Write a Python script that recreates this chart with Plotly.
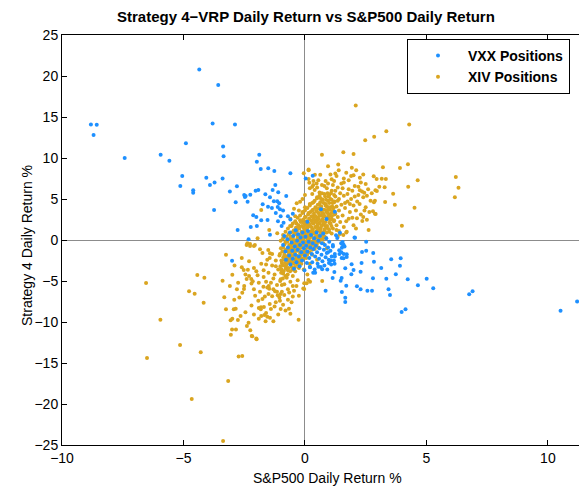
import plotly.graph_objects as go

# ---- VXX positions (blue) ----
vxx_outer = [(-8.81,14.1),(-8.57,14.06),(-8.70,12.8),(-7.42,10.0),(-5.94,10.4),(-5.58,9.67),(-4.90,11.8),
(-5.05,7.8),(-5.13,6.6),(-4.6,6.06),(-4.6,5.77),(-4.35,20.8),(-3.57,18.9),(-3.80,14.2),(-2.88,14.1),
(-3.37,11.4),(-3.35,10.2),(-4.06,7.6),(-3.72,7.0),(-3.91,6.7),(-3.39,7.5),(-3.74,3.66),(-3.09,5.9),
(-2.80,6.55),(-2.85,4.6),(-2.77,1.22),(-2.50,5.49),(-2.47,5.24),(-2.36,4.67),(-2.25,5.53),(-1.88,10.4),
(-1.98,9.55),(-1.82,8.66),(-1.51,8.74),(-1.26,8.4),(-0.60,8.13),(-2.03,6.02),(-1.92,6.1),(-1.22,6.7),
(0.03,7.5),(0.32,7.85),(-2.44,5.37),(-1.44,5.2),(-1.63,5.57),(-1.33,6.1),(-1.10,5.81),(-0.77,5.37),
(-1.28,4.72),(-1.14,4.72),(-1.06,4.48),(-1.74,4.35),(-1.52,4.06),(-1.36,3.9),(-1.12,4.02),(-1.03,3.74),
(-2.13,3.01),(-2.00,2.8),(-1.80,2.4),(-2.23,1.59),(-1.98,1.71),(-1.54,2.44),(-1.44,0.65),(-2.32,0.08),
(-1.11,2.3),(-0.96,1.7),(-0.88,2.1),(-1.2,3.3),(-0.9,3.6),(-0.7,2.9),(-0.5,3.2),(-0.6,2.5),(-1.0,2.9),
(-3.0,-2.52),
(2.04,0.32),(2.52,-0.2),(2.35,-1.46),(2.52,-1.3),(2.81,-1.59),(3.55,-2.36),(3.94,-2.23),(3.91,-3.13),
(3.14,-3.41),(2.84,-2.64),(2.33,-2.8),(1.92,-2.97),(1.66,-3.46),(2.0,-3.66),(2.29,-3.86),(1.91,-4.19),
(1.21,-3.9),(1.14,-4.63),(1.51,-4.63),(1.47,-4.96),(2.80,-4.67),(3.35,-4.72),(3.74,-4.19),(4.23,-4.8),
(5.01,-4.72),(4.65,-5.53),(5.28,-5.89),(1.70,-5.57),(2.14,-5.65),(2.29,-6.02),(2.57,-6.18),(2.76,-6.18),
(3.44,-6.02),(3.50,-6.7),(1.52,-6.34),(0.85,-6.18),(1.66,-7.03),(1.66,-7.56),(4.14,-8.46),(3.98,-8.78),
(6.76,-6.62),(6.90,-6.26),(10.52,-8.62),(11.2,-7.5),
(0.95,-1.5),(1.23,-1.7),(1.23,-2.0),(1.42,-1.7),(1.5,-1.5),(1.6,-1.7),(1.72,-1.75),(1.06,-2.5),
(1.19,-2.5),(0.99,-2.8),(1.22,-2.9),(1.51,-2.2),(1.59,-2.23),(1.72,-2.07),(1.49,-0.4),(1.59,-0.57),
(1.52,-0.94),(1.41,-1.26),(1.55,-0.24),(1.28,0.57),(1.33,0.24),(0.55,-3.25),(0.71,-3.57),(0.34,-3.99),
(0.42,-3.99),(0.21,-3.33),(1.23,3.45),(0.89,2.56),(0.66,3.74),(0.1,2.23),(2.06,0.28),(1.44,0.89),
(1.15,-0.8),(1.53,-0.5),(1.63,-0.8)]

vxx_core = [(-0.9,-0.6),(-0.85,0.5),(-0.8,-1.4),(-0.78,-2.4),(-0.72,0.1),(-0.7,-0.9),(-0.65,-1.9),
(-0.62,0.9),(-0.6,-3.0),(-0.55,-0.3),(-0.52,-1.3),(-0.5,-2.3),(-0.48,0.5),(-0.45,-3.5),(-0.42,-0.8),
(-0.4,-1.8),(-0.38,1.2),(-0.35,-2.7),(-0.32,-0.1),(-0.3,-1.2),(-0.28,0.7),(-0.25,-2.0),(-0.22,-3.2),
(-0.2,-0.6),(-0.18,0.3),(-0.15,-1.5),(-0.12,-2.5),(-0.1,0.9),(-0.08,-0.3),(-0.05,-1.0),(-0.02,-3.7),
(0.0,-1.9),(0.02,0.4),(0.05,-0.7),(0.08,-2.8),(0.1,-1.4),(0.12,1.1),(0.15,-0.2),(0.18,-2.2),(0.2,-3.3),
(0.22,-0.9),(0.25,0.6),(0.28,-1.7),(0.3,-2.7),(0.32,-0.4),(0.35,-1.1),(0.38,0.2),(0.4,-3.6),(0.42,-2.0),
(0.45,-0.7),(0.48,0.9),(0.5,-1.5),(0.52,-2.9),(0.55,-0.1),(0.58,-2.3),(0.6,-1.0),(0.62,0.5),(0.65,-3.3),
(0.68,-1.8),(0.7,-0.4),(0.72,-2.6),(0.75,0.8),(0.78,-1.2),(0.8,-3.1),(0.82,-0.6),(0.85,-2.1),(0.88,0.2),
(0.9,-1.6),(0.92,-3.6),(0.95,-0.9),(0.98,-2.4),(1.0,-0.2),(1.05,-1.3),(1.08,-3.0),(1.1,-2.0),(1.15,-0.6)]

# ---- XIV positions (gold) ----
xiv_core = [(-1.4,-5.2),(-1.35,-3.1),(-1.3,-6.0),(-1.25,-4.2),(-1.2,-2.5),(-1.15,-5.5),(-1.1,-3.6),
(-1.05,-1.9),(-1.0,-4.8),(-1.0,-6.6),(-1.45,-2.2),(-1.5,-4.0),(-1.6,-3.0),(-1.55,-5.8),(-1.7,-4.5),
(-1.8,-2.9),(-1.9,-5.2),(-2.0,-3.8),(-1.65,-6.9),(-1.75,-1.6),
(-0.95,-2.8),(-0.9,-0.9),(-0.9,-4.1),(-0.85,-1.8),(-0.85,-5.4),(-0.8,-3.2),(-0.8,-0.2),(-0.75,-2.3),
(-0.75,-4.6),(-0.7,-1.4),(-0.7,-3.7),(-0.65,-0.6),(-0.65,-2.7),(-0.6,-5.1),(-0.6,-1.9),(-0.6,0.4),
(-0.95,-6.3),(-0.7,-6.0),(-0.8,1.0),(-0.9,0.6),
(-0.55,-3.3),(-0.55,-1.0),(-0.5,-2.2),(-0.5,0.2),(-0.5,-4.4),(-0.45,-1.5),(-0.45,1.2),(-0.45,-2.9),
(-0.4,-0.5),(-0.4,-3.8),(-0.4,0.8),(-0.35,-1.9),(-0.35,-0.1),(-0.35,2.0),(-0.3,-2.6),(-0.3,-1.2),
(-0.3,0.5),(-0.25,-3.4),(-0.25,-0.7),(-0.25,1.5),(-0.2,-1.6),(-0.2,0.1),(-0.2,-2.3),(-0.2,2.4),
(-0.5,-5.6),(-0.3,-4.9),(-0.55,1.7),(-0.4,2.9),
(-0.15,-0.9),(-0.15,1.0),(-0.15,-2.9),(-0.1,0.4),(-0.1,-1.7),(-0.1,2.2),(-0.05,-0.3),(-0.05,1.6),
(-0.05,-3.6),(0.0,-1.2),(0.0,0.8),(0.0,2.8),(0.05,-0.6),(0.05,1.3),(0.05,-2.2),(0.1,0.2),(0.1,2.0),
(0.1,-1.5),(0.15,0.9),(0.15,-0.4),(0.15,3.3),(0.2,1.7),(0.2,-1.0),(0.2,-2.9),(0.0,4.0),(-0.1,3.4),
(0.1,-4.2),(0.2,4.4),
(0.25,0.4),(0.25,2.4),(0.25,-0.6),(0.3,1.2),(0.3,3.6),(0.3,-1.8),(0.35,0.0),(0.35,2.0),(0.35,4.6),
(0.4,0.9),(0.4,2.9),(0.4,-1.1),(0.45,1.6),(0.45,3.9),(0.45,-0.3),(0.5,0.5),(0.5,2.4),(0.5,5.2),
(0.55,1.2),(0.55,3.3),(0.55,-0.9),(0.6,2.0),(0.6,4.3),(0.6,0.1),(0.3,5.6),(0.5,-2.4),(0.4,6.1),(0.6,5.8),
(0.65,1.4),(0.65,3.0),(0.7,0.6),(0.7,2.4),(0.7,4.9),(0.75,1.9),(0.75,3.7),(0.75,-0.4),(0.8,1.1),
(0.8,2.9),(0.8,5.6),(0.85,2.2),(0.85,4.2),(0.85,0.3),(0.9,1.5),(0.9,3.4),(0.9,6.3),(0.95,2.6),
(0.95,4.8),(1.0,1.0),(1.0,3.1),(1.0,5.5),(0.7,6.7),(0.85,7.2),(0.9,-1.0),(0.75,0.2),
(1.05,2.0),(1.05,4.0),(1.1,2.9),(1.1,6.0),(1.15,1.4),(1.15,3.6),(1.2,4.6),(1.2,2.4),(1.25,3.2),
(1.25,5.3),(1.3,1.8),(1.3,4.1),(1.35,2.8),(1.35,6.4),(1.4,3.6),(1.4,5.0),(1.45,2.2),(1.5,4.3),
(1.5,6.9),(1.2,7.2),(1.1,0.8),(1.4,1.1),
(1.55,3.0),(1.6,5.4),(1.65,3.9),(1.7,2.3),(1.75,4.7),(1.8,6.2),(1.85,3.4),(1.9,5.0),(1.95,2.7),
(2.0,4.2),(2.05,6.6),(2.1,3.6),(2.2,5.5),(2.25,4.4),(2.3,3.1),(1.6,7.5),(1.7,0.9),(2.4,5.2),(2.5,4.0),
(2.6,6.2),(2.0,1.8),(1.9,7.8),(2.7,4.8),(2.3,7.0),
(-2.1,-6.0),(-2.3,-4.4),(-2.5,-5.6),(-1.2,-7.6),(-1.4,-8.4),(-0.9,-7.9),(-1.1,-9.1),(-0.7,-7.3),
(-2.2,-8.0),(-2.6,-2.2),(-2.9,-3.1),(-0.5,-6.9),(-1.6,-8.9),(-1.9,-9.6),(-2.7,-7.0)]

xiv_dense = [
(-1.02,-5.0),(-0.98,-4.0),(-1.01,-3.2),(-0.97,-2.5),(-1.03,-1.7),(-0.99,-1.0),(-1.0,-0.1),
(-0.91,-4.7),(-0.88,-3.8),(-0.92,-3.1),(-0.89,-2.1),(-0.93,-1.4),(-0.87,-0.6),(-0.9,0.2),
(-0.81,-4.4),(-0.79,-3.5),(-0.82,-2.8),(-0.78,-2.0),(-0.8,-1.2),(-0.83,-0.5),(-0.77,0.4),
(-0.71,-4.2),(-0.69,-3.4),(-0.72,-2.5),(-0.68,-1.8),(-0.7,-1.0),(-0.73,-0.2),(-0.67,0.7),(-0.7,1.4),
(-0.61,-3.8),(-0.59,-3.0),(-0.62,-2.3),(-0.58,-1.5),(-0.6,-0.7),(-0.63,0.1),(-0.57,0.9),(-0.61,1.7),
(-0.51,-3.6),(-0.49,-2.7),(-0.52,-1.9),(-0.48,-1.2),(-0.5,-0.4),(-0.53,0.4),(-0.47,1.1),(-0.5,2.0),
(-0.41,-3.3),(-0.39,-2.4),(-0.42,-1.6),(-0.38,-0.8),(-0.4,-0.1),(-0.43,0.7),(-0.37,1.5),(-0.4,2.3),
(-0.31,-3.0),(-0.29,-2.1),(-0.32,-1.3),(-0.28,-0.5),(-0.3,0.3),(-0.33,1.1),(-0.27,1.8),(-0.3,2.7),
(-0.21,-2.7),(-0.19,-1.8),(-0.22,-1.0),(-0.18,-0.2),(-0.2,0.6),(-0.23,1.4),(-0.17,2.2),(-0.2,3.0),
(-0.11,-2.4),(-0.09,-1.5),(-0.12,-0.7),(-0.08,0.1),(-0.1,0.9),(-0.13,1.7),(-0.07,2.5),(-0.1,3.3),
(-0.01,-2.1),(0.01,-1.2),(-0.02,-0.4),(0.02,0.4),(0.0,1.2),(-0.03,2.0),(0.03,2.8),(0.0,3.6),
(0.09,-1.8),(0.11,-0.9),(0.08,-0.1),(0.12,0.7),(0.1,1.5),(0.07,2.3),(0.13,3.1),(0.1,3.9),
(0.19,-1.5),(0.21,-0.6),(0.18,0.2),(0.22,1.0),(0.2,1.8),(0.17,2.6),(0.23,3.4),(0.2,4.2),
(0.29,-1.2),(0.31,-0.3),(0.28,0.5),(0.32,1.3),(0.3,2.1),(0.27,2.9),(0.33,3.7),(0.3,4.5),
(0.39,-0.9),(0.41,0.0),(0.38,0.8),(0.42,1.6),(0.4,2.4),(0.37,3.2),(0.43,4.0),(0.4,4.8),
(0.49,-0.5),(0.51,0.3),(0.48,1.1),(0.52,1.9),(0.5,2.7),(0.47,3.5),(0.53,4.3),(0.5,5.1),
(0.59,-0.2),(0.61,0.6),(0.58,1.4),(0.62,2.2),(0.6,3.0),(0.57,3.8),(0.63,4.6),(0.6,5.4),
(0.69,0.1),(0.71,0.9),(0.68,1.7),(0.72,2.5),(0.7,3.3),(0.67,4.1),(0.73,4.9),(0.7,5.7),
(0.79,0.5),(0.81,1.3),(0.78,2.1),(0.82,2.9),(0.8,3.7),(0.77,4.5),(0.83,5.3),
(0.89,0.9),(0.91,1.7),(0.88,2.5),(0.92,3.3),(0.9,4.1),(0.87,4.9),(0.93,5.7),
(0.99,1.3),(1.01,2.1),(0.98,2.9),(1.02,3.7),(1.0,4.5),(0.97,5.3),
(1.09,1.7),(1.11,2.5),(1.08,3.3),(1.12,4.1),(1.1,4.9),(1.07,5.7),
(1.19,2.3),(1.21,3.1),(1.18,3.9),(1.22,4.7),(1.2,5.5),
(-0.96,-3.6),(-0.86,-2.4),(-0.76,-3.0),(-0.66,-2.1),(-0.56,-2.6),(-0.46,-0.8),(-0.36,-2.0),
(-0.26,-0.9),(-0.16,-1.4),(-0.06,-0.8),(0.04,-1.6),(0.14,0.3),(0.24,-0.2),(0.34,0.9),(0.44,0.4),
(0.54,1.5),(0.64,1.0),(0.74,2.9),(0.84,1.7),(0.94,3.7),(1.04,2.5),(1.14,4.5),(-0.44,-1.2),
(-0.34,0.0),(-0.24,0.2),(-0.14,0.5),(-0.04,1.4),(0.06,1.8),(0.16,2.0),(0.26,1.6),(0.36,2.6),
(0.46,2.2),(0.56,2.6),(0.66,3.6),(0.76,3.2),(0.86,4.4),(0.96,4.0),(-0.64,-1.2),(-0.54,-0.2),
(0.14,-0.8),(0.24,0.8),(0.34,-0.6),(-0.14,-2.2),(-0.24,-2.4),(0.06,-0.2),(-0.06,0.6),(0.44,2.9)]

xiv_wings = [(-2.3,-2.6),(-2.1,-3.4),(-1.95,-4.3),(-1.85,-6.3),(-1.75,-7.2),(-1.6,-5.1),(-1.5,-6.6),
(-1.45,-7.8),(-1.3,-4.7),(-1.25,-8.1),(-1.15,-6.3),(-1.05,-7.0),(-0.95,-5.5),(-0.85,-6.7),(-0.8,-8.6),
(-0.65,-6.4),(-0.55,-7.6),(-0.45,-6.2),(-0.35,-5.6),(-0.25,-6.8),(-2.45,-4.2),(-2.2,-5.3),(-2.05,-6.8),
(-1.9,-8.3),(-1.7,-3.7),(-1.55,-2.4),(-1.35,-1.7),(-1.2,-3.2),(-2.75,-5.2),(-2.8,-6.0),(-1.0,-8.4),
(-0.6,-9.0),(-1.3,-9.9),(-2.45,-8.8),(-2.1,-9.1),
(0.3,6.5),(0.5,6.4),(0.65,5.1),(0.8,6.6),(0.95,6.9),(1.05,5.0),(1.15,6.7),(1.25,6.0),(1.35,4.8),
(1.45,5.7),(1.55,6.3),(1.65,4.5),(1.75,5.6),(1.85,4.4),(1.95,6.0),(2.05,5.3),(2.15,4.7),(2.2,6.5),
(2.35,5.9),(2.45,3.6),(2.55,5.4),(2.65,3.4),(2.75,5.7),(1.25,8.1),(0.55,7.3),(1.05,8.0),(1.7,8.2),
(0.35,7.2),(-0.1,5.0),(-0.25,3.6),(-0.45,3.8),(-0.6,2.6),(1.35,0.4),(1.6,1.6),(1.8,2.6),(2.1,1.4)]

xiv_outer = [(2.09,16.4),(4.29,14.1),(3.35,13.25),(2.85,12.6),(2.48,12.15),(1.58,10.7),(2.0,10.5),
(0.70,10.4),(0.15,8.6),(0.95,9.0),(1.37,9.2),(1.39,8.5),(1.93,8.8),(2.11,8.5),(3.21,8.87),(3.91,8.78),
(4.24,9.23),(4.64,7.28),(6.21,7.68),(6.32,6.38),(6.17,5.2),(4.25,6.5),(4.51,3.94),(3.70,4.3),
(3.63,5.65),(3.30,4.63),(3.99,1.75),(2.62,1.22),(2.88,4.8),(2.91,3.17),(2.95,7.44),(3.16,7.48),
(3.33,7.44),(3.06,6.5),(3.28,6.43),(2.26,7.6),(2.50,6.83),(2.26,6.06),(2.83,7.77),(2.90,6.06),
(2.96,5.98),(2.44,5.77),(2.84,4.59),(2.80,3.5),(2.88,3.2),(2.14,2.65),(2.40,2.8),(2.55,2.48),
(2.36,2.32),(0.15,8.5),(-0.05,8.13),(0.15,7.44),(0.18,6.99),(0.41,7.97),(0.63,7.97),(1.1,7.4),
(1.3,7.8),(1.6,7.0),(1.8,7.3),(2.0,7.9),(2.4,8.0),
(-0.34,4.47),(-0.2,4.67),(0.0,5.49),(0.2,6.3),(0.34,6.7),(0.48,6.9),(-1.8,3.66),(-1.47,1.22),
(-1.14,0.82),(-1.95,0.2),(-2.1,-0.73),(-2.26,-0.73),(-2.37,-0.4),(-2.4,-0.6),(-2.26,-0.49),
(-2.06,-0.6),(-1.51,-1.22),(-1.44,-1.62),(-1.85,-1.13),(-0.07,-5.9),(0.14,-4.88),(0.21,-5.08),
(0.07,-5.28),(0.71,-5.0),(1.3,1.22),(1.72,1.0),(1.58,0.6),(1.44,0.73),
(-4.43,-4.27),(-4.14,-4.6),(-4.54,-6.55),(-4.17,-7.64),(-3.25,-1.79),(-3.39,-4.96),(-2.99,-4.23),
(-3.09,-5.61),(-3.32,-6.99),(-3.25,-8.46),(-2.91,-7.28),(-2.93,-8.46),(-2.85,-8.37),(-2.76,-9.76),
(-3.06,-9.8),(-2.99,-9.6),(-2.65,-9.27),(-3.00,-10.9),(-2.84,-10.9),(-3.05,-11.55),(-2.32,-10.1),
(-2.39,-10.5),(-2.25,-11.0),(-2.19,-11.7),(-2.0,-12.0),(-1.62,-9.9),(-2.58,-6.42),(-2.51,-5.98),
(-2.6,-3.33),(-2.52,-3.66),(-2.35,-3.62),(-2.21,-4.76),(-2.15,-5.04),(-2.4,-4.76),(-1.92,-7.4),
(-1.81,-8.2),(-1.69,-8.17),(-1.82,-8.46),(-1.8,-9.27),(-1.67,-9.15),(-1.55,-9.35),(-1.44,-9.47),
(-1.03,-7.4),(-0.66,-8.38),(-0.26,-9.72),(-0.03,-5.98),(-0.03,-5.28),(-1.23,-6.26),(-1.35,-6.87),
(-1.12,-6.75),(-1.71,-5.69),(-1.47,-5.94),(-1.49,-5.61),
(-5.95,-9.72),(-5.14,-12.8),(-4.29,-13.7),(-4.66,-19.4),(-3.16,-17.2),(-2.73,-14.2),(-2.58,-14.15),
(-3.37,-24.5),(-4.77,-6.26),(-6.54,-5.24),(-6.5,-14.4),(-1.99,-12.1),(-2.17,-11.75)]

vxx_pts = vxx_outer + vxx_core
xiv_pts = xiv_outer + xiv_core + xiv_dense + xiv_wings
vxx_x = [p[0] for p in vxx_pts]
vxx_y = [p[1] for p in vxx_pts]
xiv_x = [p[0] for p in xiv_pts]
xiv_y = [p[1] for p in xiv_pts]

x_ticks = [-10, -5, 0, 5, 10]
y_ticks = [-25, -20, -15, -10, -5, 0, 5, 10, 15, 20, 25]
x_range = [-10, 11.28]
y_range = [-25, 25]

FONT = "Liberation Sans, Arial, Helvetica, sans-serif"
L, T, B, W, H = 62, 35, 41, 579, 486
PW, PH = W - L, H - T - B

def px(xp):
    return (xp - L) / PW

def py(yp):
    return (H - B - yp) / PH

fig = go.Figure()
fig.add_trace(go.Scatter(x=xiv_x, y=xiv_y, mode="markers", name="XIV Positions",
                         marker=dict(color="#DAA520", size=4, line=dict(width=0))))
fig.add_trace(go.Scatter(x=vxx_x, y=vxx_y, mode="markers", name="VXX Positions",
                         marker=dict(color="#1E90FF", size=4, line=dict(width=0))))
# invisible trace to give the top axis ticks
fig.add_trace(go.Scatter(x=x_range, y=[0, 0], xaxis="x2", mode="markers",
                         marker=dict(opacity=0), showlegend=False, hoverinfo="skip"))

fig.update_layout(
    width=W, height=H,
    margin=dict(l=L, r=0, t=T, b=B),
    plot_bgcolor="white", paper_bgcolor="white",
    font=dict(family=FONT, size=14, color="black"),
    xaxis=dict(range=x_range, tickvals=x_ticks, ticks="inside", ticklen=5, tickcolor="black",
               showline=True, linecolor="black", linewidth=1, showgrid=False,
               zeroline=True, zerolinecolor="#8c8c8c", zerolinewidth=1, tickfont=dict(size=14)),
    xaxis2=dict(range=x_range, overlaying="x", side="top", tickvals=x_ticks, ticks="inside",
                ticklen=5, tickcolor="black", showticklabels=False, showline=True,
                linecolor="black", linewidth=1, showgrid=False, zeroline=False),
    yaxis=dict(range=y_range, tickvals=y_ticks, ticks="inside", ticklen=5, tickcolor="black",
               showline=True, linecolor="black", linewidth=1, showgrid=False,
               zeroline=True, zerolinecolor="#8c8c8c", zerolinewidth=1, tickfont=dict(size=14)),
    legend=dict(x=px(407), xanchor="left", y=py(39), yanchor="top",
                bgcolor="white", bordercolor="black", borderwidth=1, traceorder="reversed",
                font=dict(size=14, color="black", family=FONT, weight="bold"),
                itemwidth=50, tracegroupgap=0),
    showlegend=True,
    annotations=[
        dict(text="<b>Strategy 4−VRP Daily Return vs S&P500 Daily Return</b>", xref="paper", yref="paper",
             x=px(306), y=py(17), xanchor="center", yanchor="middle", showarrow=False,
             font=dict(size=15, color="black", family=FONT)),
        dict(text="S&P500 Daily Return %", xref="paper", yref="paper",
             x=px(327), y=py(478), xanchor="center", yanchor="middle", showarrow=False,
             font=dict(size=14, color="black", family=FONT)),
        dict(text="Strategy 4 Daily Return %", xref="paper", yref="paper", textangle=-90,
             x=px(27), y=py(246), xanchor="center", yanchor="middle", showarrow=False,
             font=dict(size=14, color="black", family=FONT)),
    ],
)

fig.write_html("out.html", config={"displayModeBar": False})
with open("out.html", "r", encoding="utf-8") as f:
    html = f.read()
html = html.replace("<head>", "<head><style>html,body{margin:0;padding:0;overflow:hidden;}</style>", 1)
with open("out.html", "w", encoding="utf-8") as f:
    f.write(html)
